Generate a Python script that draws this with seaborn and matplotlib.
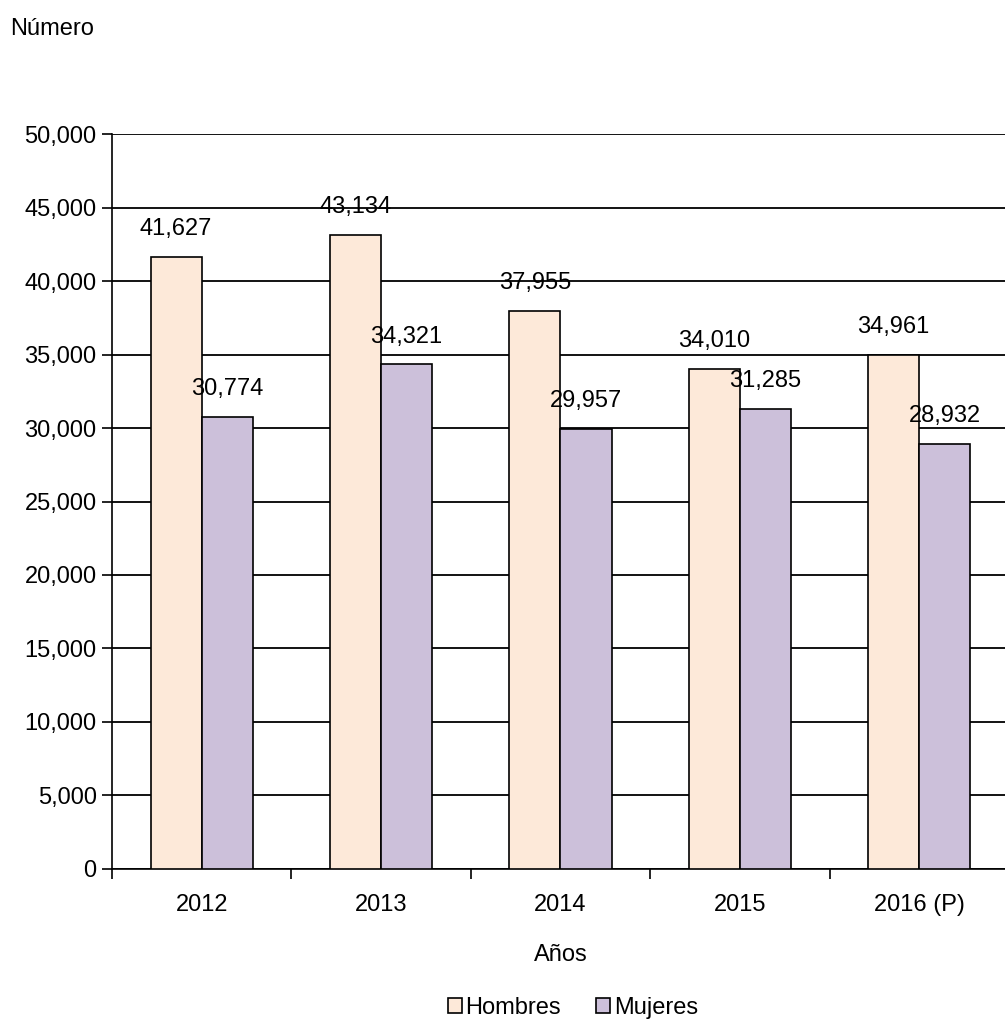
import matplotlib
matplotlib.use('Agg')
import matplotlib.pyplot as plt
from matplotlib.patches import Patch
from matplotlib.ticker import FixedLocator, FuncFormatter
import pandas as pd
import seaborn as sns

# Data
anios = ['2012', '2013', '2014', '2015', '2016 (P)']
hombres = [41627, 43134, 37955, 34010, 34961]
mujeres = [30774, 34321, 29957, 31285, 28932]
series = ['Hombres', 'Mujeres']
colores = ['#FDE9D9', '#CCC0DA']

df = pd.DataFrame({
    'anio': anios * 2,
    'valor': hombres + mujeres,
    'sexo': ['Hombres'] * len(anios) + ['Mujeres'] * len(anios),
})

sns.set_style('white')
plt.rcParams['font.family'] = ['Liberation Sans', 'DejaVu Sans']
plt.rcParams['text.color'] = 'black'
plt.rcParams['xtick.color'] = 'black'
plt.rcParams['ytick.color'] = 'black'
plt.rcParams['axes.labelcolor'] = 'black'

fs = 17

fig = plt.figure(figsize=(10.05, 10.24), dpi=100)
ax = fig.add_axes([0.1114, 0.1514, 0.8925, 0.7177])

sns.barplot(data=df, x='anio', y='valor', hue='sexo', palette=colores,
            saturation=1, width=0.57, edgecolor='black', linewidth=1.2,
            ax=ax, legend=False, zorder=3)

ax.set_ylim(0, 50000)
ax.set_xlim(-0.5, len(anios) - 0.5)
ax.set_yticks(range(0, 50001, 5000))
ax.yaxis.set_major_formatter(FuncFormatter(lambda v, p: f'{int(v):,}'))
ax.grid(axis='y', color='black', linewidth=1.3, zorder=0)
ax.grid(axis='x', visible=False)
ax.set_axisbelow(True)

# category boundaries as ticks, labels at centers
ax.xaxis.set_major_locator(FixedLocator([i - 0.5 for i in range(len(anios) + 1)]))
ax.xaxis.set_major_formatter(FuncFormatter(lambda v, p: ''))
ax.xaxis.set_minor_locator(FixedLocator(list(range(len(anios)))))
ax.set_xticklabels(anios, minor=True)
ax.tick_params(axis='x', which='major', length=7, width=1.2, color='black', direction='out', bottom=True)
ax.tick_params(axis='x', which='minor', length=0, labelsize=fs, pad=18)
ax.tick_params(axis='y', length=7, width=1.2, color='black', direction='out', left=True, labelsize=fs, pad=4)

for s in ['top', 'right']:
    ax.spines[s].set_visible(False)
for s in ['left', 'bottom']:
    ax.spines[s].set_color('black')
    ax.spines[s].set_linewidth(1.2)

for cont in ax.containers:
    labels = [f'{int(b.get_height()):,}' for b in cont]
    ax.bar_label(cont, labels=labels, padding=12, fontsize=fs)

ax.set_xlabel('Años', fontsize=fs, labelpad=20)
ax.set_ylabel('')
fig.text(0.01, 0.972, 'Número', fontsize=fs, va='center', ha='left')

handles = [Patch(facecolor=c, edgecolor='black', linewidth=1.2) for c in colores]
fig.legend(handles, series, loc='center', bbox_to_anchor=(0.57, 0.0156), ncol=2,
           frameon=False, fontsize=fs, handlelength=0.6, handleheight=0.6,
           handletextpad=0.15, columnspacing=1.5, borderpad=0)

fig.savefig('out.png', dpi=100)
